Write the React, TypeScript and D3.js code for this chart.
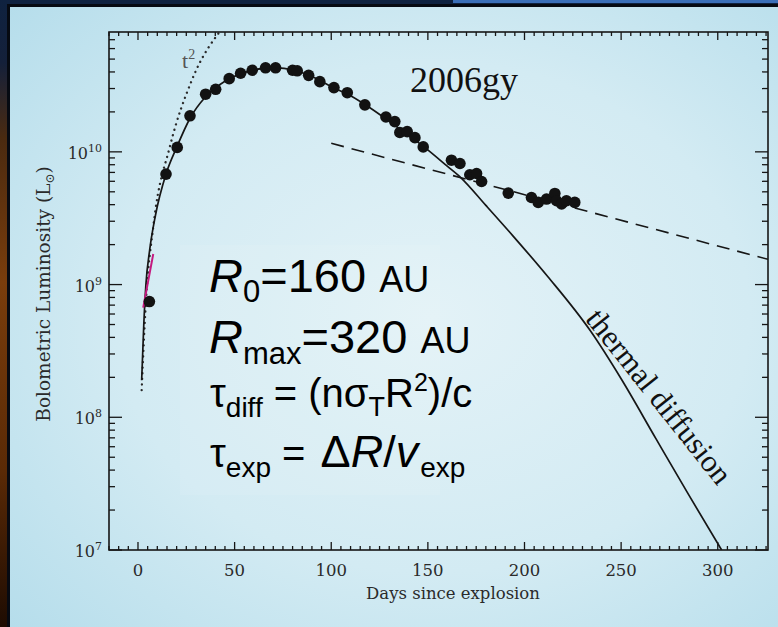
import React from 'react';
import * as d3 from 'd3';

const W = 778;
const H = 627;

// observed bolometric light curve of SN 2006gy (days since explosion, L in Lsun)
const dataDays = [5.9, 14.5, 20.3, 26.9, 35.0, 40.2, 47.2, 53.1, 59.1, 66.0, 71.2, 80.0, 82.4, 88.3, 94.1, 101.4, 108.3, 117.4, 128.3, 132.9, 135.5, 139.3, 143.3, 147.6, 162.2, 166.6, 171.7, 175.2, 177.8, 191.6, 203.6, 207.1, 211.4, 215.7, 216.6, 219.2, 221.7, 226.0];
const dataLum = [7.45e8, 6.8e9, 1.08e10, 1.87e10, 2.72e10, 2.96e10, 3.56e10, 3.91e10, 4.12e10, 4.30e10, 4.30e10, 4.12e10, 4.08e10, 3.77e10, 3.38e10, 3.05e10, 2.79e10, 2.26e10, 1.83e10, 1.69e10, 1.40e10, 1.42e10, 1.28e10, 1.09e10, 8.65e9, 8.17e9, 6.72e9, 6.87e9, 5.98e9, 4.89e9, 4.53e9, 4.16e9, 4.41e9, 4.86e9, 4.28e9, 4.05e9, 4.28e9, 4.16e9];

// thermal diffusion model (solid)
const modelDays = [1.9, 3, 4.1, 6, 9, 14.5, 20, 27, 35, 45, 55, 65, 72, 80, 90, 100, 110, 120, 130, 140, 148, 160, 167, 180, 194, 212, 234, 250, 268, 285, 302];
const modelLum = [1.9e8, 5e8, 1e9, 1.8e9, 3.3e9, 6.8e9, 1.08e10, 1.8e10, 2.6e10, 3.4e10, 3.95e10, 4.25e10, 4.3e10, 4.15e10, 3.7e10, 3.1e10, 2.65e10, 2.15e10, 1.7e10, 1.33e10, 1.09e10, 7.8e9, 6.4e9, 3.95e9, 2.33e9, 1.15e9, 4.5e8, 1.95e8, 6.9e7, 2.6e7, 1.0e7];

// t^2 rise (dotted)
const t2Days = [1.9, 4, 8, 16.6, 27.7, 45];
const t2Lum = [1.6e8, 7e8, 2.8e9, 1.11e10, 3.42e10, 9e10];

// late-time exponential tail (dashed)
const tailDays = [100, 326];
const tailLum = [1.16e10, 1.55e9];

// short magenta segment
const magDays = [2.7, 7.9];
const magLum = [6.7e8, 1.7e9];

const xTickValues = [0, 50, 100, 150, 200, 250, 300];
const yTickExps = [7, 8, 9, 10];

const serif = "'DejaVu Serif', serif";
const times = "'Liberation Serif', 'Times New Roman', serif";
const sans = "'Liberation Sans', Arial, sans-serif";

export default function App() {
  const L = 109, R = 768, T = 32, B = 550;
  const x = d3.scaleLinear().domain([-15, 326]).range([L, R]);
  const y = d3.scaleLog().domain([1e7, 8e10]).range([B, T]);

  const zip = (a: number[], b: number[]) => a.map((v, i) => [v, b[i]] as [number, number]);
  const mk = (curve: boolean) => {
    const l = d3
      .line<[number, number]>()
      .x((d) => x(d[0]))
      .y((d) => y(d[1]));
    return curve ? l.curve(d3.curveMonotoneX) : l;
  };

  const modelPath = mk(true)(zip(modelDays, modelLum)) || '';
  const t2Path = mk(true)(zip(t2Days, t2Lum)) || '';
  const tailPath = mk(false)(zip(tailDays, tailLum)) || '';
  const magPath = mk(false)(zip(magDays, magLum)) || '';

  // ticks
  const xMinor = d3.range(-15, 327, 5).filter((d) => d % 50 !== 0);
  const yMajor = yTickExps.map((e) => Math.pow(10, e));
  const yMinor: number[] = [];
  for (let e = 7; e <= 10; e++) {
    for (let k = 2; k <= 9; k++) {
      const v = k * Math.pow(10, e);
      if (v < 8e10) yMinor.push(v);
    }
  }

  const stroke = '#161616';

  return (
    <svg width={W} height={H} style={{ position: 'absolute', left: 0, top: 0 }}>
      <defs>
        <linearGradient id="leftStrip" x1="0" y1="0" x2="0" y2="1">
          <stop offset="0" stopColor="#0f2240" />
          <stop offset="0.1" stopColor="#14203a" />
          <stop offset="0.22" stopColor="#4a2a10" />
          <stop offset="0.45" stopColor="#7a3d0c" />
          <stop offset="0.75" stopColor="#5a2a06" />
          <stop offset="1" stopColor="#1e0c02" />
        </linearGradient>
        <radialGradient id="panel" cx="0.55" cy="0.5" r="0.75">
          <stop offset="0" stopColor="#e3f2f7" />
          <stop offset="0.55" stopColor="#d3ebf3" />
          <stop offset="1" stopColor="#b5ddeb" />
        </radialGradient>
        <clipPath id="plotClip">
          <rect x={L} y={T} width={R - L} height={B - T} />
        </clipPath>
      </defs>

      {/* slide background */}
      <rect x={0} y={0} width={W} height={H} fill="#0f2240" />
      <rect x={0} y={0} width={8} height={H} fill="url(#leftStrip)" />
      <rect x={453} y={0} width={W - 453} height={3} fill="#3b6fb8" />
      <rect x={7} y={4} width={W - 7} height={H - 4} fill="#060a12" />
      <rect x={10} y={7} width={W - 10} height={H - 7} fill="url(#panel)" />
      <rect x={180} y={245} width={260} height={250} fill="#ffffff" opacity={0.08} />

      {/* curves */}
      <g clipPath="url(#plotClip)" fill="none">
        <path d={tailPath} stroke={stroke} strokeWidth={1.6} strokeDasharray="13 8" />
        <path d={t2Path} stroke="#2a2a2a" strokeWidth={2.3} strokeDasharray="0.1 5.5" strokeLinecap="round" />
        <path d={modelPath} stroke={stroke} strokeWidth={1.7} />
        <path d={magPath} stroke="#c4197f" strokeWidth={2} />
      </g>

      {/* data points */}
      <g fill="#121212">
        {dataDays.map((d, i) => (
          <circle key={i} cx={x(d)} cy={y(dataLum[i])} r={5.8} />
        ))}
      </g>

      {/* frame */}
      <rect x={L} y={T} width={R - L} height={B - T} fill="none" stroke={stroke} strokeWidth={1.6} />

      {/* ticks */}
      <g stroke={stroke} strokeWidth={1.3}>
        {xTickValues.map((v) => (
          <g key={'xm' + v}>
            <line x1={x(v)} x2={x(v)} y1={B} y2={B - 8} />
            <line x1={x(v)} x2={x(v)} y1={T} y2={T + 8} />
          </g>
        ))}
        {xMinor.map((v) => (
          <g key={'xn' + v}>
            <line x1={x(v)} x2={x(v)} y1={B} y2={B - 4} />
            <line x1={x(v)} x2={x(v)} y1={T} y2={T + 4} />
          </g>
        ))}
        {yMajor.map((v) => (
          <g key={'ym' + v}>
            <line x1={L} x2={L + 13} y1={y(v)} y2={y(v)} />
            <line x1={R} x2={R - 13} y1={y(v)} y2={y(v)} />
          </g>
        ))}
        {yMinor.map((v) => (
          <g key={'yn' + v}>
            <line x1={L} x2={L + 6} y1={y(v)} y2={y(v)} />
            <line x1={R} x2={R - 6} y1={y(v)} y2={y(v)} />
          </g>
        ))}
      </g>

      {/* tick labels */}
      <g fontFamily={serif} fill="#2a2a2a">
        {xTickValues.map((v) => (
          <text key={'xl' + v} x={x(v)} y={576} fontSize={16.5} textAnchor="middle">
            {v}
          </text>
        ))}
        {yTickExps.map((e) => (
          <text key={'yl' + e} x={102} y={y(Math.pow(10, e)) + 7} fontSize={16} textAnchor="end">
            10
            <tspan dy={-7} fontSize={11}>
              {e}
            </tspan>
          </text>
        ))}
        <text x={453} y={599} fontSize={16.5} textAnchor="middle">
          Days since explosion
        </text>
        <text transform="translate(50,294) rotate(-90)" fontSize={18.5} textAnchor="middle">
          Bolometric Luminosity (L
          <tspan fontSize={12} dy={4}>⊙</tspan>
          <tspan dy={-4}>)</tspan>
        </text>
      </g>

      {/* in-plot labels */}
      <text x={410} y={92} fontFamily={times} fontSize={36} fill="#111">
        2006gy
      </text>
      <text x={182} y={68} fontFamily={times} fontSize={22} fill="#555">
        t<tspan dy={-9} fontSize={14}>2</tspan>
      </text>
      <text
        transform={`translate(651,403) rotate(51.5)`}
        fontFamily={times}
        fontSize={31}
        fill="#111"
        textAnchor="middle"
      >
        thermal diffusion
      </text>

      {/* annotation block */}
      <g fontFamily={sans} fill="#000">
        <text x={209} y={292} fontSize={47}>
          <tspan fontStyle="italic">R</tspan>
          <tspan fontSize={31} dy={10}>0</tspan>
          <tspan dy={-10}>=160 </tspan>
          <tspan fontSize={36}>AU</tspan>
        </text>
        <text x={209} y={353} fontSize={47}>
          <tspan fontStyle="italic">R</tspan>
          <tspan fontSize={31} dy={11}>max</tspan>
          <tspan dy={-11}>=320 </tspan>
          <tspan fontSize={36}>AU</tspan>
        </text>
        <text x={210} y={407} fontSize={40}>
          τ<tspan fontSize={28} dy={10}>diff</tspan>
          <tspan dy={-10}> = (nσ</tspan>
          <tspan fontSize={27} dy={9}>T</tspan>
          <tspan dy={-9}>R</tspan>
          <tspan fontSize={25} dy={-16}>2</tspan>
          <tspan dy={16}>)/c</tspan>
        </text>
        <text x={210} y={467} fontSize={40}>
          τ<tspan fontSize={28} dy={10}>exp</tspan>
          <tspan dy={-10}> = </tspan>
          <tspan fontSize={45} dx={4}>Δ</tspan>
          <tspan fontSize={45} fontStyle="italic">R</tspan>
          <tspan fontSize={45}>/</tspan>
          <tspan fontSize={45} fontStyle="italic">v</tspan>
          <tspan fontSize={28} dy={10} dx={2}>exp</tspan>
        </text>
      </g>
    </svg>
  );
}
